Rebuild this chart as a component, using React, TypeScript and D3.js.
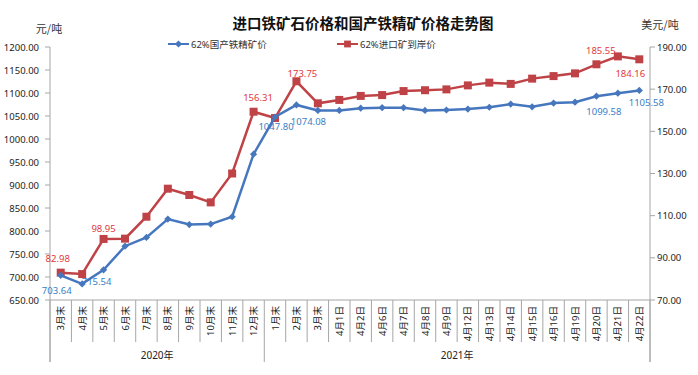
import React from "react";
import * as d3 from "d3";

const categories = [
  "3月末", "4月末", "5月末", "6月末", "7月末", "8月末", "9月末", "10月末", "11月末", "12月末",
  "1月末", "2月末", "3月末", "4月1日", "4月2日", "4月6日", "4月7日", "4月8日", "4月9日",
  "4月12日", "4月13日", "4月14日", "4月15日", "4月16日", "4月19日", "4月20日", "4月21日", "4月22日",
];

const groups = [
  { label: "2020年", start: 0, end: 10 },
  { label: "2021年", start: 10, end: 28 },
];

// 62%国产铁精矿价 (元/吨, left axis)
const domestic = [
  703.64, 685, 715.54, 767, 786, 826, 814, 815, 831, 967,
  1047.8, 1074.08, 1062, 1062, 1067, 1068, 1068, 1062, 1063,
  1065, 1069, 1076, 1070, 1078, 1080, 1093, 1099.58, 1105.58,
];

// 62%进口矿到岸价 (美元/吨, right axis)
const imported = [
  82.98, 82.3, 98.95, 99.1, 109.5, 122.8, 119.8, 116.3, 130.0, 159.3,
  156.31, 173.75, 163.3, 164.9, 166.8, 167.2, 169.1, 169.5, 169.9,
  171.8, 173.1, 172.5, 175.0, 176.2, 177.5, 181.8, 185.55, 184.16,
];

const leftTicks = [650, 700, 750, 800, 850, 900, 950, 1000, 1050, 1100, 1150, 1200];
const rightTicks = [70, 90, 110, 130, 150, 170, 190];

// labelled points: index, offset of label centre from the point
const domesticLabels = [
  { i: 0, dx: -4, dy: 15 },
  { i: 2, dx: -7, dy: 12 },
  { i: 10, dx: 1, dy: 9 },
  { i: 11, dx: 12, dy: 17 },
  { i: 26, dx: -14, dy: 18 },
  { i: 27, dx: 7, dy: 12 },
];
const importedLabels = [
  { i: 0, dx: -3, dy: -14 },
  { i: 2, dx: 0, dy: -10 },
  { i: 10, dx: -17, dy: -21 },
  { i: 11, dx: 6, dy: -8 },
  { i: 26, dx: -17, dy: -6 },
  { i: 27, dx: -9, dy: 14 },
];

const W = 698;
const H = 375;
const left = 50;
const right = 650;
const top = 47;
const bottom = 300;

const blue = "#4677BE";
const red = "#BF4346";
const blueText = "#3A7DC4";
const redText = "#E2373C";
const axisColor = "#A6A6A6";
const font = "'Noto Sans', 'Noto Sans CJK SC', sans-serif";
const cjk = "'Noto Sans CJK SC', sans-serif";

export default function App() {
  const x = d3.scaleBand<number>().domain(d3.range(categories.length)).range([left, right]).padding(0);
  const yL = d3.scaleLinear().domain([650, 1200]).range([bottom, top]);
  const yR = d3.scaleLinear().domain([70, 190]).range([bottom, top]);
  const cx = (i: number) => (x(i) as number) + x.bandwidth() / 2;

  const lineL = d3.line<number>().x((_, i) => cx(i)).y((d) => yL(d));
  const lineR = d3.line<number>().x((_, i) => cx(i)).y((d) => yR(d));
  const diamond = d3.symbol(d3.symbolSquare, 26)() as string;
  const square = d3.symbol(d3.symbolSquare, 64)() as string;

  const boundaries = d3.range(categories.length + 1).map((k) => left + k * x.bandwidth());
  const groupEdges = new Set<number>();
  groups.forEach((g) => { groupEdges.add(g.start); groupEdges.add(g.end); });

  return (
    <div style={{ position: "absolute", left: 0, top: 0 }}>
      <svg width={W} height={H} style={{ display: "block", background: "#fff" }}>
        <text x={363} y={29} textAnchor="middle" fontSize={14.5} fontWeight={700} fontFamily={cjk} fill="#111">
          进口铁矿石价格和国产铁精矿价格走势图
        </text>
        <text x={49} y={33} textAnchor="middle" fontSize={11} fontFamily={cjk} fill="#333">元/吨</text>
        <text x={660} y={29} textAnchor="middle" fontSize={11} fontFamily={cjk} fill="#333">美元/吨</text>

        {/* legend */}
        <g fontSize={9.5} fontFamily={font} fill="#333">
          <line x1={168} x2={189} y1={44} y2={44} stroke={blue} strokeWidth={2} />
          <path d={diamond} transform="translate(178.5,44) rotate(45)" fill={blue} />
          <text x={191} y={47.5}>62%国产铁精矿价</text>
          <line x1={337} x2={358} y1={44} y2={44} stroke={red} strokeWidth={2} />
          <path d={square} transform="translate(347.5,44) scale(0.85)" fill={red} />
          <text x={360} y={47.5}>62%进口矿到岸价</text>
        </g>

        {/* left axis */}
        <line x1={left} x2={left} y1={top} y2={362} stroke={axisColor} />
        {leftTicks.map((t) => (
          <g key={t}>
            <line x1={left - 5} x2={left} y1={yL(t)} y2={yL(t)} stroke={axisColor} />
            <text x={39} y={yL(t) + 3.5} textAnchor="end" fontSize={9.5} fontFamily={font} fill="#222">
              {t.toFixed(2)}
            </text>
          </g>
        ))}

        {/* right axis */}
        <line x1={right} x2={right} y1={top} y2={362} stroke={axisColor} />
        {rightTicks.map((t) => (
          <g key={t}>
            <line x1={right} x2={right + 5} y1={yR(t)} y2={yR(t)} stroke={axisColor} />
            <text x={657} y={yR(t) + 3.5} textAnchor="start" fontSize={9.5} fontFamily={font} fill="#222">
              {t.toFixed(2)}
            </text>
          </g>
        ))}

        {/* category axis */}
        <line x1={left} x2={right} y1={bottom} y2={bottom} stroke={axisColor} />
        {boundaries.map((bx, k) => (
          <line key={k} x1={bx} x2={bx} y1={bottom} y2={groupEdges.has(k) ? 362 : 342} stroke={axisColor} />
        ))}
        {categories.map((c, i) => (
          <text
            key={i}
            transform={`translate(${cx(i) + 3.5},306) rotate(-90)`}
            textAnchor="end"
            fontSize={9.5}
            fontFamily={font}
            fill="#222"
          >
            {c}
          </text>
        ))}
        {groups.map((g) => (
          <text
            key={g.label}
            x={(left + g.start * x.bandwidth() + left + g.end * x.bandwidth()) / 2}
            y={359}
            textAnchor="middle"
            fontSize={10}
            fontFamily={font}
            fill="#222"
          >
            {g.label}
          </text>
        ))}

        {/* data labels (beneath the lines, as in the source) */}
        {domesticLabels.map((l) => (
          <text key={"d" + l.i} x={cx(l.i) + l.dx} y={yL(domestic[l.i]) + l.dy + 3.5} textAnchor="middle"
            fontSize={9.5} fontFamily={font} fill={blueText}>
            {domestic[l.i].toFixed(2)}
          </text>
        ))}
        {importedLabels.map((l) => (
          <text key={"r" + l.i} x={cx(l.i) + l.dx} y={yR(imported[l.i]) + l.dy + 3.5} textAnchor="middle"
            fontSize={9.5} fontFamily={font} fill={redText}>
            {imported[l.i].toFixed(2)}
          </text>
        ))}

        {/* series */}
        <path d={lineR(imported) as string} fill="none" stroke={red} strokeWidth={2.5} />
        {imported.map((v, i) => (
          <path key={i} d={square} transform={`translate(${cx(i)},${yR(v)})`} fill={red} />
        ))}
        <path d={lineL(domestic) as string} fill="none" stroke={blue} strokeWidth={2.5} />
        {domestic.map((v, i) => (
          <path key={i} d={diamond} transform={`translate(${cx(i)},${yL(v)}) rotate(45)`} fill={blue} />
        ))}
      </svg>
    </div>
  );
}
